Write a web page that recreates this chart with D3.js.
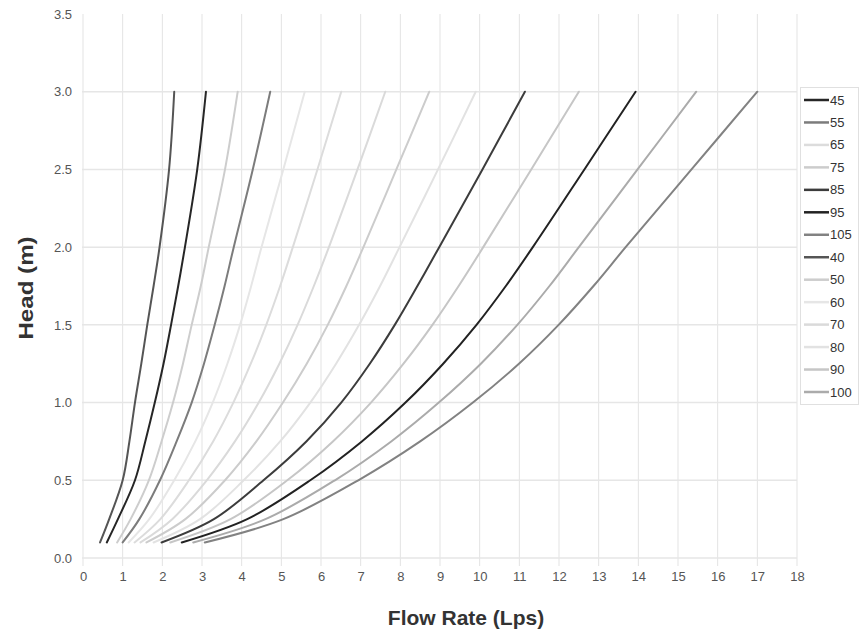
<!DOCTYPE html>
<html>
<head>
<meta charset="utf-8">
<script src="https://cdn.jsdelivr.net/npm/d3@7"></script>
<style>
  html, body { margin: 0; padding: 0; background: #fff; }
  svg { display: block; font-family: "Liberation Sans", Arial, sans-serif; }
</style>
</head>
<body>
<svg id="chart" width="860" height="635"></svg>
<script>
// ---- data ----
const headLevels = [0.1, 0.25, 0.5, 0.75, 1.0, 1.25, 1.5, 1.75, 2.0, 2.5, 3.0];
const xTicks = [0,1,2,3,4,5,6,7,8,9,10,11,12,13,14,15,16,17,18];
const yTicks = [0.0, 0.5, 1.0, 1.5, 2.0, 2.5, 3.0, 3.5];
const legendOrder = ["45","55","65","75","85","95","105","40","50","60","70","80","90","100"];

const q40  = [0.43, 0.66, 1.00, 1.17, 1.31, 1.47, 1.62, 1.78, 1.93, 2.17, 2.30];
const q45  = [0.60, 0.88, 1.31, 1.57, 1.81, 2.03, 2.22, 2.40, 2.57, 2.88, 3.10];
const q50  = [0.86, 1.20, 1.66, 1.98, 2.27, 2.52, 2.74, 2.97, 3.17, 3.58, 3.90];
const q55  = [1.00, 1.42, 1.94, 2.36, 2.74, 3.05, 3.32, 3.57, 3.80, 4.28, 4.72];
const q60  = [1.15, 1.67, 2.30, 2.83, 3.27, 3.64, 3.96, 4.24, 4.50, 5.05, 5.59];
const q65  = [1.30, 1.95, 2.67, 3.28, 3.79, 4.23, 4.62, 4.97, 5.29, 5.91, 6.51];
const q70  = [1.45, 2.25, 3.12, 3.83, 4.43, 4.95, 5.41, 5.82, 6.20, 6.92, 7.62];
const q75  = [1.60, 2.58, 3.58, 4.37, 5.04, 5.64, 6.17, 6.64, 7.07, 7.90, 8.73];
const q80  = [1.78, 2.95, 4.05, 4.97, 5.73, 6.38, 6.96, 7.49, 7.98, 8.95, 9.90];
const q85  = [1.98, 3.30, 4.55, 5.63, 6.51, 7.23, 7.86, 8.43, 8.98, 10.07, 11.14];
const q90  = [2.20, 3.72, 5.15, 6.30, 7.26, 8.08, 8.81, 9.47, 10.09, 11.30, 12.50];
const q95  = [2.49, 4.14, 5.73, 7.03, 8.13, 9.08, 9.92, 10.66, 11.34, 12.64, 13.93];
const q100 = [2.78, 4.60, 6.35, 7.77, 8.97, 10.03, 10.95, 11.76, 12.50, 13.98, 15.46];
const q105 = [3.07, 5.05, 6.94, 8.50, 9.83, 10.99, 11.99, 12.87, 13.68, 15.34, 17.00];

const seriesFlows = {"40": q40, "45": q45, "50": q50, "55": q55, "60": q60, "65": q65, "70": q70,
  "75": q75, "80": q80, "85": q85, "90": q90, "95": q95, "100": q100, "105": q105};

// ---- styles ----
const palette = {"40": "#555555", "45": "#262626", "50": "#cdcdcd", "55": "#7c7c7c", "60": "#e6e6e6",
  "65": "#dcdcdc", "70": "#dadada", "75": "#cccccc", "80": "#e2e2e2", "85": "#3c3c3c",
  "90": "#c6c6c6", "95": "#222222", "100": "#ababab", "105": "#828282"};

const svg = d3.select("#chart");
const x = d3.scaleLinear().domain([0, 18]).range([83, 797]);
const y = d3.scaleLinear().domain([0, 3.5]).range([558, 14]);

// grid
const grid = svg.append("g");
grid.selectAll("line.v").data(xTicks).join("line")
  .attr("x1", d => x(d)).attr("x2", d => x(d))
  .attr("y1", y(3.5)).attr("y2", y(0) + 8)
  .attr("stroke", "#e3e3e3").attr("stroke-width", 1);
grid.selectAll("line.h").data(yTicks.filter(d => d < 3.5)).join("line")
  .attr("x1", x(0) - 1).attr("x2", x(18))
  .attr("y1", d => y(d)).attr("y2", d => y(d))
  .attr("stroke", "#e6e6e6").attr("stroke-width", 1.5);

// axes (labels only)
const xAxis = d3.axisBottom(x).tickValues(xTicks).tickSize(0).tickPadding(0).tickFormat(d3.format("d"));
const gx = svg.append("g").attr("transform", `translate(0,${y(0) + 14})`).call(xAxis);
gx.select(".domain").remove();
gx.selectAll("text").attr("font-size", 13).attr("fill", "#555").attr("dy", "0.71em")
  .attr("font-family", "Liberation Sans, Arial, sans-serif");

const yAxis = d3.axisLeft(y).tickValues(yTicks).tickSize(0).tickPadding(0).tickFormat(d3.format(".1f"));
const gy = svg.append("g").attr("transform", `translate(72,0)`).call(yAxis);
gy.select(".domain").remove();
gy.selectAll("text").attr("font-size", 13).attr("fill", "#555")
  .attr("font-family", "Liberation Sans, Arial, sans-serif");

// axis titles
svg.append("text").attr("x", 466).attr("y", 625).attr("text-anchor", "middle")
  .attr("font-size", 21).attr("font-weight", "bold").attr("fill", "#333")
  .text("Flow Rate (Lps)");
svg.append("text").attr("transform", "translate(33,288) rotate(-90) scale(1.15,1)").attr("text-anchor", "middle")
  .attr("font-size", 21).attr("font-weight", "bold").attr("fill", "#333")
  .text("Head (m)");

// lines
const line = d3.line().x(d => x(d[0])).y(d => y(d[1])).curve(d3.curveCatmullRom.alpha(0.5));
const drawOrder = ["60","80","65","70","75","50","90","100","105","55","40","85","45","95"];
svg.append("g").selectAll("path").data(drawOrder).join("path")
  .attr("d", k => line(seriesFlows[k].map((q, i) => [q, headLevels[i]])))
  .attr("fill", "none").attr("stroke", k => palette[k]).attr("stroke-width", 2)
  .attr("stroke-linejoin", "round").attr("stroke-linecap", "round");

// legend
const lg = svg.append("g");
lg.append("rect").attr("x", 800.5).attr("y", 87.5).attr("width", 58).attr("height", 317)
  .attr("fill", "#fff").attr("stroke", "#e0e0e0");
const ly = d3.scalePoint().domain(legendOrder).range([100, 392]);
const items = lg.selectAll("g.item").data(legendOrder).join("g").attr("class", "item")
  .attr("transform", k => `translate(0,${ly(k)})`);
items.append("line").attr("x1", 804).attr("x2", 829).attr("y1", 0).attr("y2", 0)
  .attr("stroke", k => palette[k]).attr("stroke-width", 2.5);
items.append("text").attr("x", 830).attr("y", 0).attr("dy", "0.35em")
  .attr("font-size", 13).attr("fill", "#333").text(k => k);
</script>
</body>
</html>
